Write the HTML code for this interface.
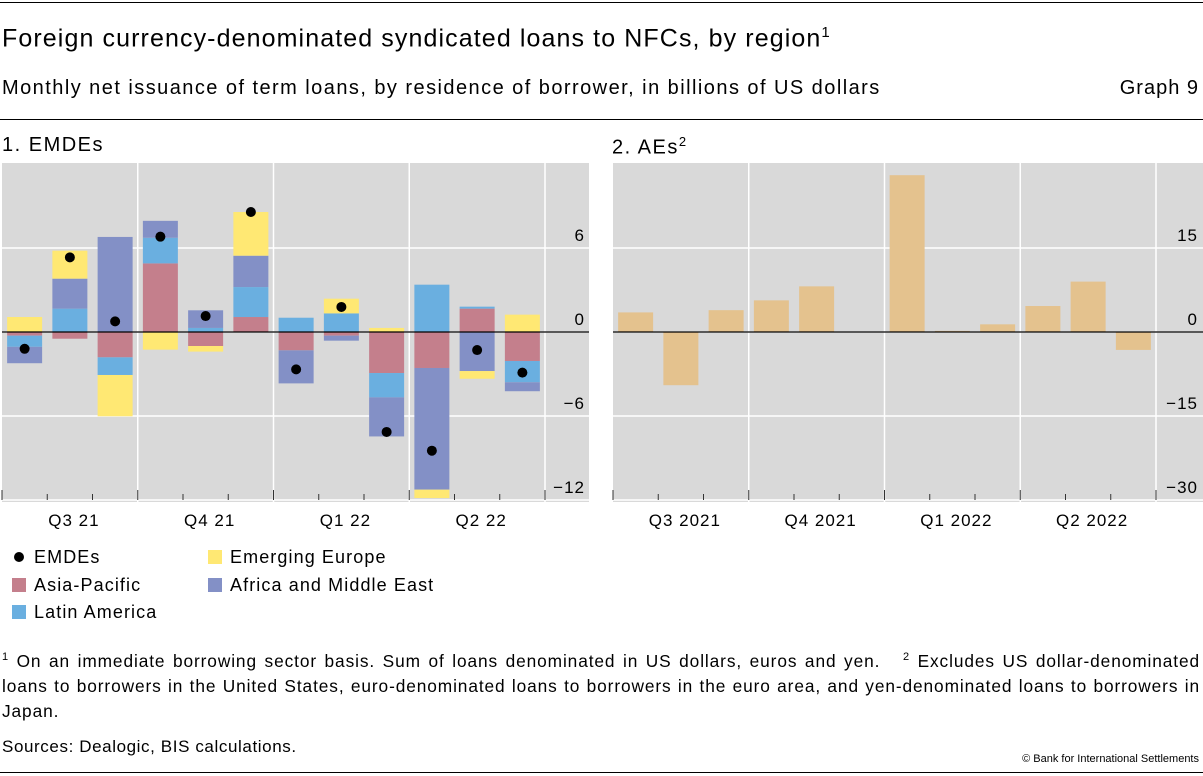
<!DOCTYPE html>
<html><head><meta charset="utf-8">
<style>
body{margin:0;width:1203px;height:776px;background:#fff;font-family:"Liberation Sans",sans-serif;color:#000;position:relative;overflow:hidden}
.t{position:absolute;white-space:nowrap}
.hr{position:absolute;left:0;width:1203px;height:1px;background:#000}
</style></head><body>
<div class="hr" style="top:2px"></div>
<div class="t" style="left:2px;top:24px;font-size:25px;letter-spacing:1.1px">Foreign currency-denominated syndicated loans to NFCs, by region<sup style="font-size:15px">1</sup></div>
<div class="t" style="left:2px;top:77px;font-size:20px;letter-spacing:1.45px">Monthly net issuance of term loans, by residence of borrower, in billions of US dollars</div>
<div class="t" style="right:4px;top:77px;font-size:20px;letter-spacing:1px">Graph 9</div>
<div class="hr" style="top:119px"></div>
<div class="t" style="left:2px;top:134px;font-size:20px;letter-spacing:1.5px">1. EMDEs</div>
<div class="t" style="left:612px;top:134px;font-size:20px;letter-spacing:1.5px">2. AEs<sup style="font-size:13px">2</sup></div>
<svg id="svg" width="1203" height="776" style="position:absolute;left:0;top:0" font-family="Liberation Sans, sans-serif"></svg>
<div class="t" style="left:2px;top:645px;font-size:17.3px;letter-spacing:0.9px;line-height:25px;white-space:normal;width:1198px;text-align:justify"><sup style="font-size:11px">1</sup> On an immediate borrowing sector basis. Sum of loans denominated in US dollars, euros and yen. &nbsp; <sup style="font-size:11px">2</sup> Excludes US dollar&#8209;denominated loans to borrowers in the United States, euro&#8209;denominated loans to borrowers in the euro area, and yen&#8209;denominated loans to borrowers in Japan.</div>
<div class="t" style="left:2px;top:737px;font-size:17px;letter-spacing:0.6px">Sources: Dealogic, BIS calculations.</div>
<div class="t" style="right:4px;top:753px;font-size:11px">© Bank for International Settlements</div>
<div class="hr" style="top:772px"></div>
<script>
const months=["Jul 21","Aug 21","Sep 21","Oct 21","Nov 21","Dec 21","Jan 22","Feb 22","Mar 22","Apr 22","May 22","Jun 22"];
const quarters=["Q3 21","Q4 21","Q1 22","Q2 22"];
const quartersAE=["Q3 2021","Q4 2021","Q1 2022","Q2 2022"];
const asiaPacific=[-0.26,-0.48,-1.81,4.9,-1.0,1.07,-1.31,-0.26,-2.93,-2.57,1.67,-2.07];
const latinAmerica=[-0.8,1.67,-1.26,1.83,0.29,2.14,1.02,1.33,-1.74,3.38,0.14,-1.52];
const africaME=[-1.17,2.14,6.79,1.21,1.26,2.24,-2.36,-0.36,-2.79,-8.69,-2.79,-0.64];
const emergingEurope=[1.07,2.0,-2.95,-1.26,-0.4,3.12,0,1.05,0.29,-0.6,-0.55,1.24];
const emdeTotal=[-1.2,5.33,0.76,6.81,1.14,8.57,-2.67,1.79,-7.14,-8.48,-1.29,-2.9];
const aeValues=[3.5,-9.5,3.9,5.65,8.15,0,28.0,0.2,1.37,4.64,9.0,-3.2];
const ticksL=[6,0,-6,-12];
const ticksR=[15,0,-15,-30];

const svg=document.getElementById('svg');const NS='http://www.w3.org/2000/svg';
function mk(tag,attrs,parent){const e=document.createElementNS(NS,tag);for(const k in attrs)e.setAttribute(k,attrs[k]);(parent||svg).appendChild(e);return e;}

function panel(cfg){
  const g=mk('g',{});
  
  
  const y=v=>cfg.y0-v*cfg.ppu;
  const bg=mk('rect',{x:cfg.left,y:163,width:cfg.bgRight-cfg.left,height:339,fill:'#d9d9d9'},g);
  
  
  const qw=(cfg.right-cfg.left)/4, mw=qw/3;
  const x=i=>cfg.left+mw*(i+0.5);
  cfg.ticks.forEach(t=>{
    const l=mk('line',{x1:cfg.left,x2:cfg.bgRight,y1:y(t),y2:y(t),stroke:'#fff','stroke-width':1.5},g);
    
    
    const tx=mk('text',{x:cfg.labelX,y:y(t)-7,'text-anchor':'end','font-size':17,fill:'#000','letter-spacing':1},g);
    tx.textContent=(t<0?'\u2212'+Math.abs(t):t);
    
    
  });
  for(let q=1;q<=4;q++){
    const l=mk('line',{x1:cfg.left+qw*q,x2:cfg.left+qw*q,y1:163,y2:502,stroke:'#fff','stroke-width':1.5},g);
    
    
  }
  cfg.draw(g,x,y,mw);
  const z=mk('line',{x1:cfg.left,x2:cfg.bgRight,y1:y(0),y2:y(0),stroke:'#000','stroke-width':1.3},g);
  
  
  for(let k=0;k<=12;k++){
    const xx=cfg.left+mw*k;const big=k%3===0;
    const t=mk('line',{x1:xx,x2:xx,y1:big?490:494,y2:500,stroke:'#333','stroke-width':1},g);
    
    
  }
  cfg.qlabels.forEach((s,i)=>{
    const tx=mk('text',{x:cfg.left+qw*(i+0.5)+4,y:526,'text-anchor':'middle','font-size':17,'letter-spacing':1},g);
    tx.textContent=s;
    
    
  });
}
const colors=['#c47f8c','#6aafe0','#8390c6','#ffe873'];
const seriesNames=['asia-pacific','latin-america','africa-middle-east','emerging-europe'];
const series=[asiaPacific,latinAmerica,africaME,emergingEurope];
panel({name:'emdes-panel',left:2,right:545,bgRight:589,y0:332,ppu:14,ticks:ticksL,labelX:585,qlabels:quarters,
 draw:(g,x,y,mw)=>{
  const bw=35;
  months.forEach((m,i)=>{
    let pos=0,neg=0;
    series.forEach((s,k)=>{
      const v=s[i];if(!v)return;
      let a,b;if(v>0){a=pos;b=pos+v;pos=b;}else{a=neg;b=neg+v;neg=b;}
      const r=mk('rect',{x:x(i)-bw/2,y:Math.min(y(a),y(b)),width:bw,height:Math.abs(y(a)-y(b)),fill:colors[k]},g);
      
      
    });
    const c=mk('circle',{cx:x(i),cy:y(emdeTotal[i]),r:5,fill:'#000'},g);
    
    
  });
 }});
panel({name:'aes-panel',left:613,right:1156,bgRight:1203,y0:332,ppu:5.6,ticks:ticksR,labelX:1198,qlabels:quartersAE,
 draw:(g,x,y,mw)=>{
  const bw=35;
  aeValues.forEach((v,i)=>{
    const r=mk('rect',{x:x(i)-bw/2,y:Math.min(y(0),y(v)),width:bw,height:Math.abs(y(v)-y(0)),fill:'#e4c28e'},g);
    
    
  });
 }});
const leg=[['dot','EMDEs',12,557],['#c47f8c','Asia-Pacific',12,585],['#6aafe0','Latin America',12,612],['#ffe873','Emerging Europe',208,557],['#8390c6','Africa and Middle East',208,585]];
leg.forEach(([c,t,lx,ly])=>{
  const g=mk('g',{});
  
  
  if(c==='dot')mk('circle',{cx:lx+7,cy:ly,r:5,fill:'#000'},g);
  else mk('rect',{x:lx,y:ly-7,width:14,height:14,fill:c},g);
  const tx=mk('text',{x:lx+22,y:ly+6,'font-size':18,'letter-spacing':1.1},g);tx.textContent=t;
});
</script>
</body></html>
